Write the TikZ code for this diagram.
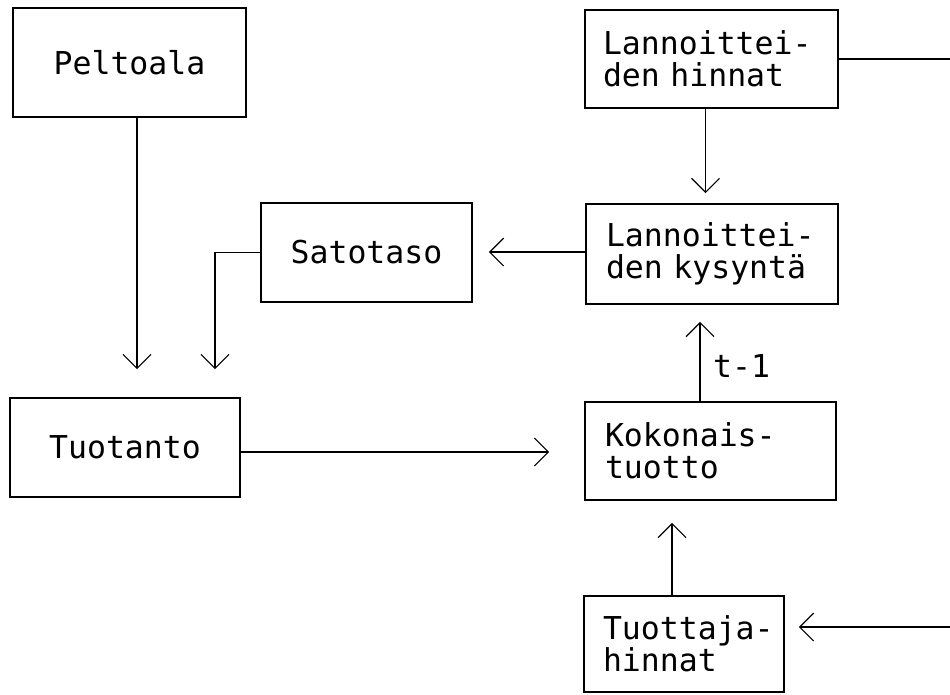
\documentclass[tikz,border=0pt]{standalone}
\usepackage{fontspec}
\setmonofont{DejaVu Sans Mono}
\usetikzlibrary{arrows.meta,calc}
\begin{document}
\begin{tikzpicture}[x=1pt,y=-1pt,
  txt/.style={font=\ttfamily\fontsize{31.5}{32}\selectfont},
  box/.style={draw, line width=1.6pt, inner sep=0pt, txt},
  lbox/.style={box, align=left},
  arr/.style={line width=1.2pt, -{Straight Barb[length=14pt,width=28pt,line width=1.2pt]}},
  plain/.style={line width=1.2pt}]
\useasboundingbox (0,0) rectangle (950,694);

\node[box, minimum width=233pt, minimum height=109pt] (pelto) at (129.5,62.5) {Peltoala};
\node[lbox, text width=217pt, inner xsep=18pt, minimum height=98pt] (hinnat) at (711.5,59) {Lannoittei-\\den hinnat};
\node[box, minimum width=211pt, minimum height=99pt] (sato) at (366.5,252.5) {Satotaso};
\node[lbox, text width=212pt, inner xsep=20pt, minimum height=100pt] (kysy) at (712,254) {Lannoittei-\\den kysyntä};
\node[box, minimum width=230pt, minimum height=99pt] (tuot) at (125,447.5) {Tuotanto};
\node[lbox, text width=211pt, inner xsep=20pt, minimum height=98pt] (koko) at (710.5,451) {Kokonais-\\tuotto};
\node[lbox, text width=162pt, inner xsep=19pt, minimum height=96pt] (tuhi) at (684,644) {Tuottaja-\\hinnat};

\coordinate (rout) at (950,59);
\coordinate (rin) at (950,627);

\draw[arr, shorten >=28pt] ($(pelto.south)+(7.5,0)$) -- ($(tuot.north)+(12,0)$);
\draw[arr, shorten >=28pt] (sato.west) -| ($(tuot.north)+(90,0)$);
\draw[arr, shorten >=16pt] ($(kysy.west)+(0,-2)$) -- ($(sato.east)+(0,-0.5)$);
\draw[arr, shorten >=10pt] ($(hinnat.south)+(-6,0)$) -- ($(kysy.north)+(-6.5,0)$);
\draw[arr, shorten >=17pt] ($(koko.north)+(-10.5,0)$) -- ($(kysy.south)+(-12,0)$);
\node[txt, anchor=base west, inner sep=0pt] (tl) at (713,377) {t-1};
\draw[arr, shorten >=35pt] ($(tuot.east)+(0,4.5)$) -- ($(koko.west)+(0,1)$);
\draw[arr, shorten >=22pt] ($(tuhi.north)+(-12,0)$) -- ($(koko.south)+(-38.5,0)$);
\draw[arr, shorten >=14pt] (rin) -- (rin -| tuhi.east);
\draw[plain] (hinnat.east) -- (rout);
\end{tikzpicture}
\end{document}
